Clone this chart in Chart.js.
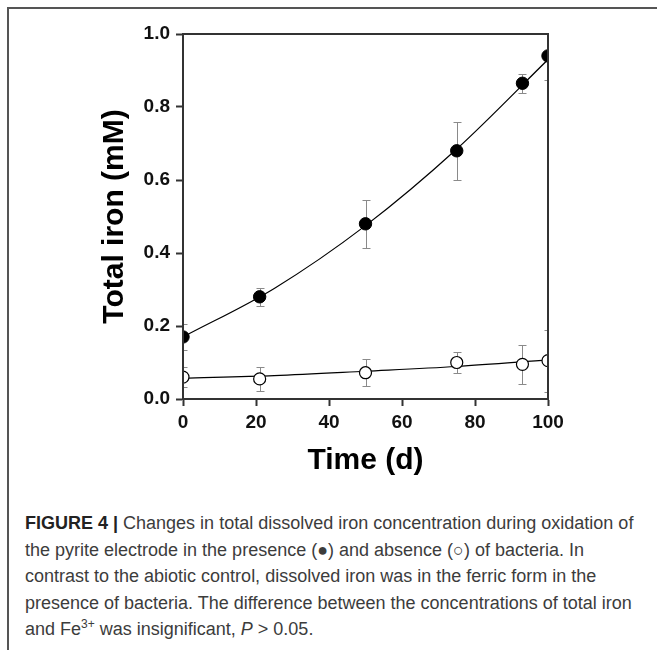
<!DOCTYPE html>
<html>
<head>
<meta charset="utf-8">
<script src="https://cdn.jsdelivr.net/npm/chart.js@4.4.1/dist/chart.umd.min.js"></script>
<style>
  html, body { margin: 0; padding: 0; background: #fff; }
  body { width: 657px; height: 650px; position: relative; overflow: hidden; }
  #frame { position: absolute; left: 7px; top: 7px; width: 660px; height: 660px;
    border-left: 2px solid #555; border-top: 2px solid #555; }
  #plot { position: absolute; left: 0; top: 0; width: 657px; height: 500px; }
  #caption { position: absolute; left: 25px; top: 510px; font-family: "Liberation Sans", Arial, sans-serif;
    font-size: 18px; line-height: 26.5px; color: #3c3c3c; white-space: nowrap; }
  #caption b { color: #222; }
  #caption sup { font-size: 12px; line-height: 0; vertical-align: 7px; }
</style>
</head>
<body>
<div id="frame"></div>
<div id="plot"><canvas id="chart" width="657" height="500"></canvas></div>
<div id="caption">
  <b>FIGURE 4 |</b> Changes in total dissolved iron concentration during oxidation of<br>
  the pyrite electrode in the presence (&#9679;) and absence (&#9675;) of bacteria. In<br>
  contrast to the abiotic control, dissolved iron was in the ferric form in the<br>
  presence of bacteria. The difference between the concentrations of total iron<br>
  and Fe<sup>3+</sup> was insignificant, <i>P</i> &gt; 0.05.
</div>
<script>
// sampling days and measured total iron (mM)
const days = [0, 21, 50, 75, 93, 100];
const ironBacteria = [0.17, 0.28, 0.48, 0.68, 0.865, 0.94];
const ironBacteriaErr = [0.035, 0.025, 0.065, 0.08, 0.026, 0.066];
const ironAbiotic = [0.06, 0.055, 0.072, 0.10, 0.095, 0.105];
const ironAbioticErr = [0.027, 0.033, 0.037, 0.028, 0.053, 0.085];

// fitted curves
const fitDays = [0, 25, 50, 75, 100];
const fitBacteria = [0.17, 0.303, 0.475, 0.685, 0.93];
const fitAbiotic = [0.057, 0.064, 0.076, 0.089, 0.107];

const xTicks = [0, 20, 40, 60, 80, 100];
const yTicks = [0, 0.2, 0.4, 0.6, 0.8, 1.0];

const axisColor = "#333";
const tickFont = { family: "Liberation Sans, Arial, sans-serif", size: 19, weight: "bold" };
const titleFont = { family: "Liberation Sans, Arial, sans-serif", size: 30, weight: "bold" };

const pairs = (xs, ys) => xs.map((x, i) => ({ x, y: ys[i] }));

// clip marks to the plot box, draw error bars underneath, then the top/right frame
const plotBox = {
  id: "plotBox",
  beforeDatasetsDraw(chart) {
    const { ctx, chartArea: a, scales: { x, y } } = chart;
    ctx.save();
    ctx.beginPath();
    ctx.rect(a.left, a.top, a.right - a.left, a.bottom - a.top);
    ctx.clip();
    ctx.strokeStyle = "#8a8a8a";
    ctx.lineWidth = 1;
    [[ironBacteria, ironBacteriaErr], [ironAbiotic, ironAbioticErr]].forEach(([vals, errs]) => {
      days.forEach((d, i) => {
        const px = Math.round(x.getPixelForValue(d)) + 0.5;
        const hi = Math.round(y.getPixelForValue(vals[i] + errs[i])) + 0.5;
        const lo = Math.round(y.getPixelForValue(vals[i] - errs[i])) + 0.5;
        ctx.beginPath();
        ctx.moveTo(px, hi); ctx.lineTo(px, lo);
        ctx.moveTo(px - 4, hi); ctx.lineTo(px + 4, hi);
        ctx.moveTo(px - 4, lo); ctx.lineTo(px + 4, lo);
        ctx.stroke();
      });
    });
  },
  afterDatasetsDraw(chart) {
    const { ctx, chartArea: a } = chart;
    ctx.restore();
    ctx.save();
    ctx.strokeStyle = axisColor;
    ctx.lineWidth = 2;
    ctx.beginPath();
    ctx.moveTo(a.left, a.top);
    ctx.lineTo(a.right, a.top);
    ctx.lineTo(a.right, a.bottom);
    ctx.moveTo(a.left, a.top);
    ctx.lineTo(a.left, a.bottom);
    ctx.lineTo(a.right, a.bottom);
    ctx.stroke();
    ctx.restore();
  },
};

new Chart(document.getElementById("chart"), {
  type: "line",
  data: {
    datasets: [
      {
        data: pairs(days, ironBacteria),
        showLine: false,
        pointRadius: 6.2,
        pointHoverRadius: 6.2,
        pointBackgroundColor: "#000",
        pointBorderColor: "#000",
        pointBorderWidth: 1,
        clip: 0,
        order: 0,
      },
      {
        data: pairs(days, ironAbiotic),
        showLine: false,
        pointRadius: 6,
        pointHoverRadius: 6,
        pointBackgroundColor: "#fff",
        pointBorderColor: "#000",
        pointBorderWidth: 1.2,
        clip: 0,
        order: 0,
      },
      {
        data: pairs(fitDays, fitBacteria),
        borderColor: "#000",
        borderWidth: 1.2,
        pointRadius: 0,
        cubicInterpolationMode: "monotone",
        clip: 0,
        order: 1,
      },
      {
        data: pairs(fitDays, fitAbiotic),
        borderColor: "#000",
        borderWidth: 1.2,
        pointRadius: 0,
        cubicInterpolationMode: "monotone",
        clip: 0,
        order: 1,
      },
    ],
  },
  options: {
    responsive: false,
    animation: false,
    events: [],
    layout: { padding: { left: 0, top: 34, right: 109, bottom: 0 } },
    plugins: { legend: { display: false }, tooltip: { enabled: false } },
    scales: {
      x: {
        type: "linear",
        min: 0,
        max: 100,
        afterBuildTicks: s => { s.ticks = xTicks.map(v => ({ value: v })); },
        afterFit: s => { s.height = 101; },
        border: { display: true, color: axisColor, width: 2 },
        grid: { display: true, drawOnChartArea: false, drawTicks: true, tickLength: 7, tickWidth: 2, tickColor: axisColor },
        ticks: { font: tickFont, color: "#111", padding: 5, maxRotation: 0 },
        title: { display: true, text: "Time (d)", font: titleFont, color: "#000", padding: { top: 0, bottom: 21 } },
      },
      y: {
        type: "linear",
        min: 0,
        max: 1,
        afterBuildTicks: s => { s.ticks = yTicks.map(v => ({ value: v })); },
        afterFit: s => { s.width = 183; },
        border: { display: true, color: axisColor, width: 2 },
        grid: { display: true, drawOnChartArea: false, drawTicks: true, tickLength: 7, tickWidth: 2, tickColor: axisColor },
        ticks: { font: tickFont, color: "#111", padding: 6, callback: v => v.toFixed(1) },
        title: { display: true, text: "Total iron (mM)", font: titleFont, color: "#000", padding: { top: 97, bottom: 0 } },
      },
    },
  },
  plugins: [plotBox],
});
</script>
</body>
</html>
